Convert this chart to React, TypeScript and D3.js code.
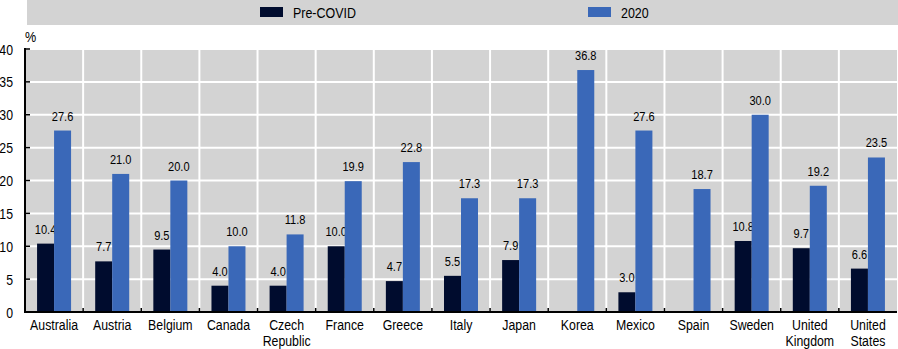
import React from "react";
import * as d3 from "d3";

const categories = ["Australia", "Austria", "Belgium", "Canada", "Czech\nRepublic", "France", "Greece", "Italy", "Japan", "Korea", "Mexico", "Spain", "Sweden", "United\nKingdom", "United\nStates"];
const preCovid: (number | null)[] = [10.4, 7.7, 9.5, 4.0, 4.0, 10.0, 4.7, 5.5, 7.9, null, 3.0, null, 10.8, 9.7, 6.6];
const y2020: (number | null)[] = [27.6, 21.0, 20.0, 10.0, 11.8, 19.9, 22.8, 17.3, 17.3, 36.8, 27.6, 18.7, 30.0, 19.2, 23.5];
const yTicks = [0, 5, 10, 15, 20, 25, 30, 35, 40];
const seriesNames = ["Pre-COVID", "2020"];
const colors = ["#000c2e", "#3a68b8"];

const W = 898, H = 349;
const left = 25, right = 897, top = 49, bottom = 312;
const FONT = "'Liberation Sans', Arial, sans-serif";

function NText({ x, y, size = 14, sx = 0.87, anchor = "start", children }: any) {
  return (
    <text transform={`translate(${x},${y}) scale(${sx},1)`} fontSize={size} textAnchor={anchor} fill="#000">
      {children}
    </text>
  );
}

export default function App() {
  const x = d3.scaleBand<string>().domain(categories).range([left, right]).paddingInner(0).paddingOuter(0);
  const y = d3.scaleLinear().domain([0, 40]).range([bottom, top]);
  const bw = x.bandwidth();
  const barW = 17;
  const pad = (bw - 2 * barW) / 2;
  const series = [preCovid, y2020];
  return (
    <svg width={W} height={H} style={{ position: "absolute", left: 0, top: 0, fontFamily: FONT }}>
      <rect x={0} y={0} width={W} height={H} fill="#ffffff" />
      {/* legend */}
      <rect x={27} y={0} width={W - 27} height={25} fill="#d3d3d3" />
      {seriesNames.map((s, i) => {
        const lx = i === 0 ? 260 : 588;
        return (
          <g key={s}>
            <rect x={lx} y={7} width={23} height={10} fill={colors[i]} />
            <NText x={lx + 33} y={17.5} size={15} sx={0.83}>{s}</NText>
          </g>
        );
      })}
      {/* plot bg */}
      <rect x={left} y={top} width={right - left} height={bottom - top} fill="#d3d3d3" />
      {yTicks.map((t) => (
        <line key={"g" + t} x1={left} x2={right} y1={y(t)} y2={y(t)} stroke="#fff" strokeWidth={2} />
      ))}
      {categories.slice(1).map((c) => (
        <line key={"v" + c} x1={x(c)!} x2={x(c)!} y1={top} y2={bottom} stroke="#fff" strokeWidth={2} />
      ))}
      {/* bars */}
      {series.map((vals, si) =>
        vals.map((v, i) =>
          v == null ? null : (
            <g key={si + "-" + i}>
              <rect x={x(categories[i])! + pad + si * barW} y={y(v)} width={barW} height={y(0) - y(v)} fill={colors[si]} />
              <NText x={x(categories[i])! + pad + si * barW + barW / 2} y={y(v) - 10} size={13.5} sx={0.82} anchor="middle">{v.toFixed(1)}</NText>
            </g>
          )
        )
      )}
      {/* axes */}
      <line x1={left} x2={left} y1={top - 1} y2={bottom + 1} stroke="#000" strokeWidth={2} />
      <line x1={left - 1} x2={right} y1={bottom} y2={bottom} stroke="#000" strokeWidth={2} />
      {yTicks.map((t) => (
        <g key={"t" + t}>
          <line x1={left} x2={left + 5} y1={y(t)} y2={y(t)} stroke="#000" strokeWidth={1.5} />
          <NText x={13} y={y(t) + 5.5} size={15} sx={0.82} anchor="end">{t}</NText>
        </g>
      ))}
      {categories.slice(1).map((c) => (
        <line key={"xt" + c} x1={x(c)!} x2={x(c)!} y1={bottom - 4} y2={bottom} stroke="#000" strokeWidth={1.5} />
      ))}
      {categories.map((c) =>
        c.split("\n").map((line, k) => (
          <NText key={"xl" + c + k} x={x(c)! + bw / 2} y={330 + k * 16} size={14.5} sx={0.85} anchor="middle">{line}</NText>
        ))
      )}
      <NText x={25} y={42} size={14} sx={0.9}>%</NText>
    </svg>
  );
}
